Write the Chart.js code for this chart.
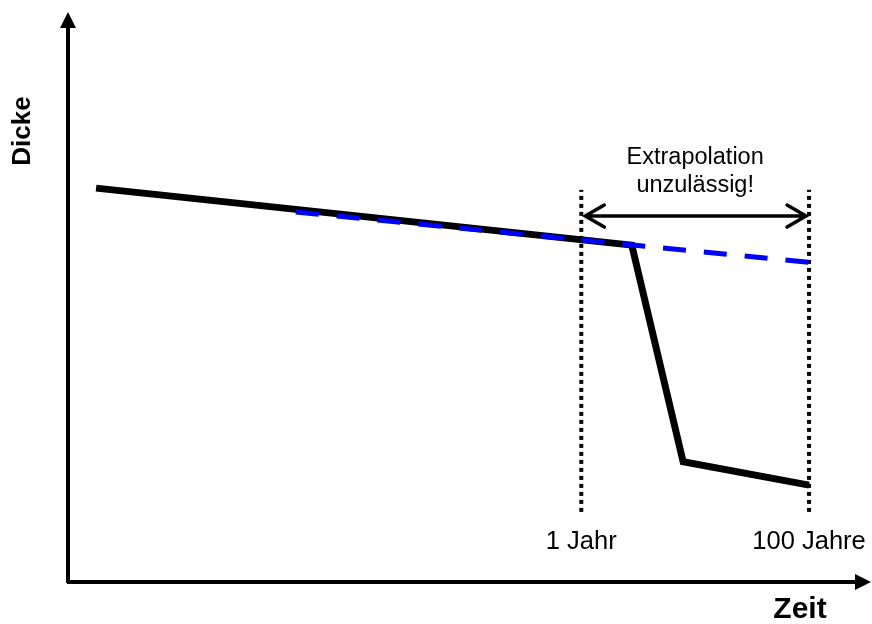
<!DOCTYPE html>
<html>
<head>
<meta charset="utf-8">
<script src="https://cdn.jsdelivr.net/npm/chart.js@4"></script>
<style>
  body { margin: 0; background: #fff; }
  canvas { display: block; }
</style>
</head>
<body>
<canvas id="mainGraph" width="872" height="624"></canvas>
<script>
// values (x: 0..100 along Zeit, y: 0..100 along Dicke)
var measuredX = [3.5, 70.3, 76.7, 92.4];
var measuredY = [69.1, 59.1, 21.1, 17.0];
var trendX = [28.4, 92.4];
var trendY = [64.9, 56.1];
var markX = [64.0, 92.4];
var markLabels = ['1 Jahr', '100 Jahre'];
var markTop = 68.8;
var markBottom = 12.3;
var arrowY = 64.2;
var noteLines = ['Extrapolation', 'unzulässig!'];
var axisTitleX = 'Zeit';
var axisTitleY = 'Dicke';

function pts(xs, ys) {
    return xs.map(function (x, i) { return { x: x, y: ys[i] }; });
}

// first dataset is painted last (on top)
var datasets = [];
datasets.push({
    data: pts(trendX, trendY),
    borderColor: 'rgb(0, 0, 255)',
    borderWidth: 5,
    borderDash: [23, 18],
    borderCapStyle: 'butt',
    pointRadius: 0,
    fill: false
});
markX.forEach(function (x) {
    datasets.push({
        data: pts([x, x], [markBottom, markTop]),
        borderColor: '#000',
        borderWidth: 4,
        borderDash: [4, 4],
        borderCapStyle: 'butt',
        pointRadius: 0,
        fill: false
    });
});
datasets.push({
    data: pts(measuredX, measuredY),
    borderColor: '#000',
    borderWidth: 7,
    borderJoinStyle: 'miter',
    pointRadius: 0,
    fill: false
});

var font = '"Liberation Sans", Arial, sans-serif';

var decorations = {
    id: 'decorations',
    afterDatasetsDraw: function (chart) {
        var ctx = chart.ctx;
        var a = chart.chartArea;
        var xs = chart.scales.x, ys = chart.scales.y;
        ctx.save();
        ctx.fillStyle = '#000';
        ctx.strokeStyle = '#000';

        // axes with arrow heads
        ctx.lineWidth = 4;
        ctx.beginPath();
        ctx.moveTo(a.left, a.bottom + 1);
        ctx.lineTo(a.left, a.top + 12);
        ctx.moveTo(a.left - 1, a.bottom);
        ctx.lineTo(a.right - 12, a.bottom);
        ctx.stroke();
        ctx.beginPath();
        ctx.moveTo(a.left, a.top);
        ctx.lineTo(a.left - 8, a.top + 16);
        ctx.lineTo(a.left + 8, a.top + 16);
        ctx.closePath();
        ctx.fill();
        ctx.beginPath();
        ctx.moveTo(a.right + 1, a.bottom);
        ctx.lineTo(a.right - 15, a.bottom - 8);
        ctx.lineTo(a.right - 15, a.bottom + 8);
        ctx.closePath();
        ctx.fill();

        // double arrow between the marks
        var x1 = xs.getPixelForValue(markX[0]) + 4;
        var x2 = xs.getPixelForValue(markX[1]) - 3;
        var yA = ys.getPixelForValue(arrowY);
        ctx.lineWidth = 3.5;
        ctx.lineCap = 'round';
        ctx.lineJoin = 'miter';
        ctx.beginPath();
        ctx.moveTo(x1, yA);
        ctx.lineTo(x2, yA);
        ctx.moveTo(x1 + 19, yA - 11);
        ctx.lineTo(x1, yA);
        ctx.lineTo(x1 + 19, yA + 11);
        ctx.moveTo(x2 - 19, yA - 11);
        ctx.lineTo(x2, yA);
        ctx.lineTo(x2 - 19, yA + 11);
        ctx.stroke();

        // note above the arrow
        ctx.font = '23.5px ' + font;
        ctx.textAlign = 'center';
        ctx.textBaseline = 'middle';
        var cx = (xs.getPixelForValue(markX[0]) + xs.getPixelForValue(markX[1])) / 2;
        ctx.fillText(noteLines[0], cx, 158);
        ctx.fillText(noteLines[1], cx, 186);

        // mark labels
        ctx.font = '25.5px ' + font;
        markX.forEach(function (x, i) {
            ctx.fillText(markLabels[i], xs.getPixelForValue(x), 542);
        });

        // axis titles
        ctx.font = 'bold 30px ' + font;
        ctx.fillText(axisTitleX, 800, 610);
        ctx.translate(23, 131);
        ctx.rotate(-Math.PI / 2);
        ctx.font = 'bold 26px ' + font;
        ctx.fillText(axisTitleY, 0, 0);
        ctx.restore();
    }
};

var ctx = document.getElementById('mainGraph').getContext('2d');
var chart = new Chart(ctx, {
    type: 'line',
    data: { datasets: datasets },
    options: {
        responsive: false,
        animation: false,
        events: [],
        layout: { padding: { left: 68, right: 2, top: 12, bottom: 42 } },
        plugins: { legend: { display: false }, tooltip: { enabled: false } },
        elements: { line: { tension: 0 } },
        scales: {
            x: { type: 'linear', min: 0, max: 100, display: false },
            y: { type: 'linear', min: 0, max: 100, display: false }
        }
    },
    plugins: [decorations]
});
</script>
</body>
</html>
